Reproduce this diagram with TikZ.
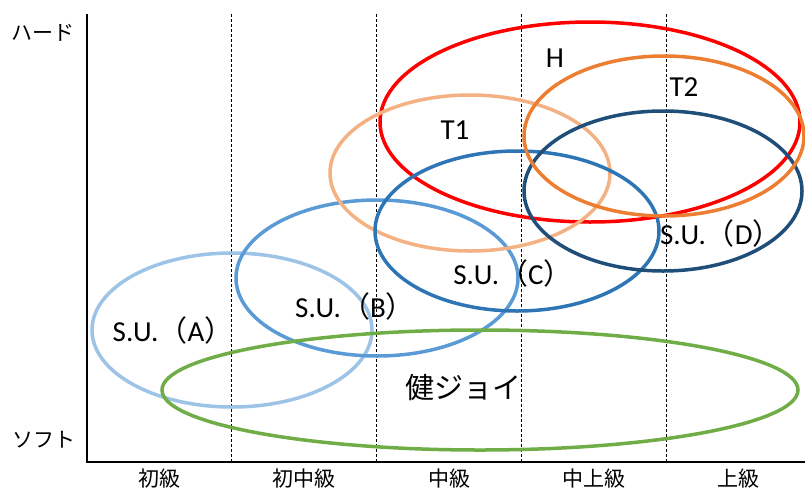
\documentclass[tikz,border=0pt]{standalone}
\usepackage{fontspec}
\setmainfont{Carlito}
\newfontfamily\jpfont{Noto Sans CJK JP}
\begin{document}
\begin{tikzpicture}[
    x=1pt, y=-1pt,
    level/.style={draw=black, line width=1pt, densely dashed},
    ring/.style={line width=3.5pt},
    tag/.style={font=\fontsize{29}{29}\selectfont, inner sep=0pt},
    axislabel/.style={font=\jpfont\fontsize{21}{21}\selectfont, inner sep=0pt}
]
    \useasboundingbox (0,0) rectangle (805,493);

    % axes
    \coordinate (O) at (87,462);
    \coordinate (top) at (87,14);
    \coordinate (right) at (805,462);
    \draw[line width=2pt] (top) -- (O) -- (right);
    \foreach \x in {231,376,521,666}
        \draw[level] (\x,14) -- (\x,462);

    \node[axislabel] (hard) at (43,33) {ハード};
    \node[axislabel] (soft) at (44,440) {ソフト};
    \node[axislabel] (lv1) at (159,479) {初級};
    \node[axislabel] (lv2) at (304,479) {初中級};
    \node[axislabel] (lv3) at (449,479) {中級};
    \node[axislabel] (lv4) at (594,479) {中上級};
    \node[axislabel] (lv5) at (738,479) {上級};

    % groups
    \definecolor{suA}{HTML}{9DC3E6}
    \definecolor{suB}{HTML}{5B9BD5}
    \definecolor{suC}{HTML}{2E75B6}
    \definecolor{suD}{HTML}{1F4E79}
    \definecolor{tA}{HTML}{F4B183}
    \definecolor{tB}{HTML}{ED7D31}
    \definecolor{kenjoy}{HTML}{70AD47}

    \draw[ring, suA] (232,330) ellipse [x radius=140, y radius=77];
    \draw[ring, suB] (377,278) ellipse [x radius=141, y radius=78];
    \draw[ring, red] (590,122) ellipse [x radius=210, y radius=100];
    \draw[ring, tA] (470,173) ellipse [x radius=140, y radius=78];
    \draw[ring, suC] (517,231) ellipse [x radius=142, y radius=80];
    \draw[ring, suD] (663,191) ellipse [x radius=139, y radius=80];
    \draw[ring, tB] (664,136) ellipse [x radius=140, y radius=80];
    \draw[ring, kenjoy] (480,390) ellipse [x radius=318, y radius=60];

    \node[tag] (H) at (555,58) {H};
    \node[tag] (T2) at (684,87) {T2};
    \node[tag] (T1) at (455,130) {T1};
    \node[tag] (D) at (721,233) {S.U.{\jpfont （}D{\jpfont ）}};
    \node[tag] (C) at (513,273) {S.U.{\jpfont （}C{\jpfont ）}};
    \node[tag] (B) at (355,306) {S.U.{\jpfont （}B{\jpfont ）}};
    \node[tag] (A) at (173,330) {S.U.{\jpfont （}A{\jpfont ）}};
    \node[tag, font=\jpfont\fontsize{29}{29}\selectfont] (K) at (463,388) {健ジョイ};
\end{tikzpicture}
\end{document}
